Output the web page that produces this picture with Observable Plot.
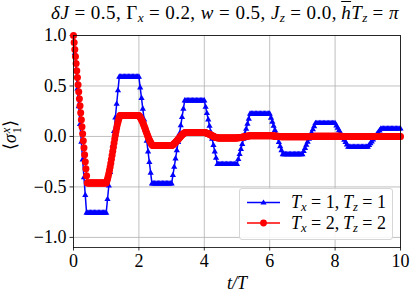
<!DOCTYPE html>
<html>
<head>
<meta charset="utf-8">
<script src="https://cdn.jsdelivr.net/npm/d3@7"></script>
<script src="https://cdn.jsdelivr.net/npm/@observablehq/plot@0.6"></script>
<style>
  body { margin: 0; background: #fff; }
  #wrap { position: relative; width: 416px; height: 300px; font-family: "Liberation Serif", "Times New Roman", serif; color: #000; overflow: hidden; }
  #title { position: absolute; left: 45px; width: 360px; top: 3px; text-align: center; font-size: 19px; line-height: 20px; letter-spacing: 0.45px; white-space: nowrap; }
  #chart { position: absolute; left: 0; top: 28px; }
  sub { font-size: 70%; vertical-align: -0.25em; line-height: 0; letter-spacing: 0; }
  .ov { text-decoration: overline; text-decoration-thickness: 1px; }
  #ylab { position: absolute; left: 12px; top: 135px; transform: translate(-50%, -50%) rotate(-90deg); font-size: 18px; white-space: nowrap; line-height: 1; }
  .ss { display: inline-flex; flex-direction: column; vertical-align: middle; font-size: 70%; line-height: 0.9; margin-left: 1px; }
  #legend { position: absolute; left: 239px; top: 188px; width: 152px; height: 50px; border: 1px solid #d6d6d6; border-radius: 3px; background: rgba(255,255,255,0.85); }
  .li { position: absolute; left: 51px; font-size: 18px; line-height: 20px; white-space: nowrap; }
  #legend svg { position: absolute; left: 0; top: 0; }
</style>
</head>
<body>
<div id="wrap">
  <div id="title"><i>δJ</i> = 0.5, Γ<sub><i>x</i></sub> = 0.2, <i>w</i> = 0.5, <i>J<sub>z</sub></i> = 0.0,&thinsp;<i class="ov">h</i><i>T<sub>z</sub></i> = <i>π</i></div>
  <div id="chart"></div>
  <div id="ylab">⟨<i>σ</i><span class="ss"><i>x</i><span>1</span></span>⟩</div>
  <div id="legend">
    <svg width="152" height="50">
      <line x1="7" x2="40" y1="13.5" y2="13.5" stroke="blue" stroke-width="1.5"/>
      <path d="M23.5,10.4 L26.6,15.6 L20.4,15.6 Z" fill="blue"/>
      <line x1="7" x2="40" y1="34" y2="34" stroke="red" stroke-width="1.5"/>
      <circle cx="23.5" cy="34" r="3.4" fill="red"/>
    </svg>
    <div class="li" style="top:3px"><i>T<sub>x</sub></i> = 1,&thinsp;<i>T<sub>z</sub></i> = 1</div>
    <div class="li" style="top:24px"><i>T<sub>x</sub></i> = 2,&thinsp;<i>T<sub>z</sub></i> = 2</div>
  </div>
</div>
<script>
// sampling steps in t/T
const blueStep = 0.04;
const redStep = 0.02;

// <σ1^x>, Tx = 1, Tz = 1 (sampled every 0.04 in t/T)
const blueValues = [
  1.000,0.824,0.649,0.473,0.297,0.122,-0.054,-0.230,-0.406,-0.581,
  -0.757,-0.757,-0.757,-0.757,-0.757,
  -0.757,-0.757,-0.757,-0.757,-0.757,
  -0.757,-0.757,-0.757,-0.757,-0.757,
  -0.757,-0.622,-0.488,-0.353,-0.218,-0.084,0.051,0.186,0.321,0.455,
  0.590,0.590,0.590,0.590,0.590,
  0.590,0.590,0.590,0.590,0.590,
  0.590,0.590,0.590,0.590,0.590,
  0.590,0.484,0.379,0.273,0.167,0.062,-0.044,-0.150,-0.256,-0.361,
  -0.467,-0.467,-0.467,-0.467,-0.467,
  -0.467,-0.467,-0.467,-0.467,-0.467,
  -0.467,-0.467,-0.467,-0.467,-0.467,
  -0.467,-0.385,-0.303,-0.220,-0.138,-0.056,0.026,0.108,0.191,0.273,
  0.355,0.355,0.355,0.355,0.355,
  0.355,0.355,0.355,0.355,0.355,
  0.355,0.355,0.355,0.355,0.355,
  0.355,0.292,0.229,0.166,0.103,0.040,-0.024,-0.087,-0.150,-0.213,
  -0.276,-0.276,-0.276,-0.276,-0.276,
  -0.276,-0.276,-0.276,-0.276,-0.276,
  -0.276,-0.276,-0.276,-0.276,-0.276,
  -0.276,-0.226,-0.176,-0.126,-0.076,-0.026,0.024,0.074,0.124,0.174,
  0.224,0.224,0.224,0.224,0.224,
  0.224,0.224,0.224,0.224,0.224,
  0.224,0.224,0.224,0.224,0.224,
  0.224,0.184,0.144,0.103,0.063,0.023,-0.017,-0.057,-0.098,-0.138,
  -0.178,-0.178,-0.178,-0.178,-0.178,
  -0.178,-0.178,-0.178,-0.178,-0.178,
  -0.178,-0.178,-0.178,-0.178,-0.178,
  -0.178,-0.147,-0.116,-0.085,-0.054,-0.024,0.007,0.038,0.069,0.100,
  0.131,0.131,0.131,0.131,0.131,
  0.131,0.131,0.131,0.131,0.131,
  0.131,0.131,0.131,0.131,0.131,
  0.131,0.107,0.084,0.060,0.037,0.013,-0.011,-0.034,-0.058,-0.081,
  -0.105,-0.105,-0.105,-0.105,-0.105,
  -0.105,-0.105,-0.105,-0.105,-0.105,
  -0.105,-0.105,-0.105,-0.105,-0.105,
  -0.105,-0.087,-0.069,-0.051,-0.033,-0.015,0.004,0.022,0.040,0.058,
  0.076,0.076,0.076,0.076,0.076,
  0.076,0.076,0.076,0.076,0.076,
  0.076,0.076,0.076,0.076,0.076,
  0.076
];

// <σ1^x>, Tx = 2, Tz = 2 (sampled every 0.02 in t/T)
const redValues = [
  1.000,0.930,0.861,0.791,0.722,0.652,0.583,0.513,0.444,0.374,0.305,
  0.235,0.166,0.096,0.027,-0.043,-0.112,-0.182,-0.251,-0.321,-0.390,-0.460,
  -0.460,-0.460,-0.460,-0.460,-0.460,-0.460,-0.460,
  -0.460,-0.460,-0.460,-0.460,-0.460,-0.460,-0.460,
  -0.460,-0.460,-0.460,-0.460,-0.460,-0.460,-0.460,
  -0.460,-0.460,-0.460,-0.460,-0.460,-0.460,-0.460,
  -0.460,-0.442,-0.421,-0.396,-0.368,-0.336,-0.302,-0.265,-0.227,-0.187,-0.147,
  -0.106,-0.066,-0.026,0.012,0.049,0.083,0.115,0.143,0.168,0.189,0.207,
  0.207,0.207,0.207,0.207,0.207,0.207,0.207,
  0.207,0.207,0.207,0.207,0.207,0.207,0.207,
  0.207,0.207,0.207,0.207,0.207,0.207,0.207,
  0.207,0.207,0.207,0.207,0.207,0.207,0.207,
  0.207,0.199,0.190,0.179,0.166,0.152,0.137,0.121,0.104,0.086,0.068,
  0.050,0.032,0.014,-0.003,-0.019,-0.034,-0.048,-0.061,-0.072,-0.081,-0.089,
  -0.089,-0.089,-0.089,-0.089,-0.089,-0.089,-0.089,
  -0.089,-0.089,-0.089,-0.089,-0.089,-0.089,-0.089,
  -0.089,-0.089,-0.089,-0.089,-0.089,-0.089,-0.089,
  -0.089,-0.089,-0.089,-0.089,-0.089,-0.089,-0.089,
  -0.089,-0.086,-0.081,-0.077,-0.071,-0.065,-0.058,-0.051,-0.044,-0.036,-0.028,
  -0.021,-0.013,-0.005,0.002,0.009,0.016,0.022,0.028,0.032,0.037,0.040,
  0.040,0.040,0.040,0.040,0.040,0.040,0.040,
  0.040,0.040,0.040,0.040,0.040,0.040,0.040,
  0.040,0.040,0.040,0.040,0.040,0.040,0.040,
  0.040,0.040,0.040,0.040,0.040,0.040,0.040,
  0.040,0.039,0.037,0.035,0.032,0.030,0.027,0.024,0.021,0.018,0.014,
  0.011,0.007,0.004,0.001,-0.002,-0.005,-0.007,-0.010,-0.012,-0.014,-0.015,
  -0.015,-0.015,-0.015,-0.015,-0.015,-0.015,-0.015,
  -0.015,-0.015,-0.015,-0.015,-0.015,-0.015,-0.015,
  -0.015,-0.015,-0.015,-0.015,-0.015,-0.015,-0.015,
  -0.015,-0.015,-0.015,-0.015,-0.015,-0.015,-0.015,
  -0.015,-0.014,-0.014,-0.013,-0.012,-0.011,-0.010,-0.009,-0.007,-0.006,-0.005,
  -0.003,-0.002,-0.001,0.001,0.002,0.003,0.004,0.005,0.006,0.006,0.007,
  0.007,0.007,0.007,0.007,0.007,0.007,0.007,
  0.007,0.007,0.007,0.007,0.007,0.007,0.007,
  0.007,0.007,0.007,0.007,0.007,0.007,0.007,
  0.007,0.007,0.007,0.007,0.007,0.007,0.007,
  0.007,0.007,0.006,0.006,0.006,0.005,0.005,0.004,0.004,0.003,0.002,
  0.002,0.001,0.001,0.000,-0.001,-0.001,-0.002,-0.002,-0.002,-0.003,-0.003,
  -0.003,-0.003,-0.003,-0.003,-0.003,-0.003,-0.003,
  -0.003,-0.003,-0.003,-0.003,-0.003,-0.003,-0.003,
  -0.003,-0.003,-0.003,-0.003,-0.003,-0.003,-0.003,
  -0.003,-0.003,-0.003,-0.003,-0.003,-0.003,-0.003,
  -0.003,-0.003,-0.003,-0.003,-0.002,-0.002,-0.002,-0.002,-0.002,-0.001,-0.001,
  -0.001,-0.001,0.000,0.000,0.000,0.000,0.000,0.001,0.001,0.001,0.001,
  0.001,0.001,0.001,0.001,0.001,0.001,0.001,
  0.001,0.001,0.001,0.001,0.001,0.001,0.001,
  0.001,0.001,0.001,0.001,0.001,0.001,0.001,
  0.001,0.001,0.001,0.001,0.001,0.001,0.001,
  0.001,0.001,0.001,0.001,0.001,0.001,0.001,0.001,0.001,0.001,0.001,
  0.000,0.000,0.000,0.000,0.000,0.000,0.000,0.000,0.000,0.000,0.000,
  0.000,0.000,0.000,0.000,0.000,0.000,0.000,
  0.000,0.000,0.000,0.000,0.000,0.000,0.000,
  0.000,0.000,0.000,0.000,0.000,0.000,0.000,
  0.000,0.000,0.000,0.000,0.000,0.000,0.000,
  0.000,0.000,0.000,0.000,0.000,0.000,0.000,0.000,0.000,0.000,0.000,
  0.000,0.000,0.000,0.000,0.000,0.000,0.000,0.000,0.000,0.000,0.000,
  0.000,0.000,0.000,0.000,0.000,0.000,0.000,
  0.000,0.000,0.000,0.000,0.000,0.000,0.000,
  0.000,0.000,0.000,0.000,0.000,0.000,0.000,
  0.000,0.000,0.000,0.000,0.000,0.000,0.000,
  0.000
];

const xTicks = [0, 2, 4, 6, 8, 10];
const yTicks = [-1.0, -0.5, 0.0, 0.5, 1.0];
const xDomain = [0, 10];
const yDomain = [-1.1, 1.0];

const blue = blueValues.map((v, i) => ({t: i * blueStep, v}));
const red = redValues.map((v, i) => ({t: i * redStep, v}));

const fmtY = d => d.toFixed(1).replace("-", "\u2212");
const serif = "'Liberation Serif', 'Times New Roman', serif";

const chart = Plot.plot({
  width: 416,
  height: 272,
  marginTop: 7,
  marginLeft: 73,
  marginRight: 16,
  marginBottom: 53,
  style: {fontFamily: serif, fontSize: "18px", background: "transparent", overflow: "visible", color: "#000"},
  x: {domain: xDomain},
  y: {domain: yDomain},
  marks: [
    Plot.gridX(xTicks, {stroke: "#b0b0b0", strokeOpacity: 1, strokeWidth: 0.8}),
    Plot.gridY(yTicks, {stroke: "#b0b0b0", strokeOpacity: 1, strokeWidth: 0.8}),
    Plot.axisX(xTicks, {tickSize: 3.5, tickPadding: 3.5, tickFormat: d => String(d), label: null, fontSize: 18, fontFamily: serif, strokeWidth: 0.8}),
    Plot.axisY(yTicks, {tickSize: 3.5, tickPadding: 3.5, tickFormat: fmtY, label: null, fontSize: 18, fontFamily: serif, strokeWidth: 0.8}),
    Plot.line(blue, {x: "t", y: "v", stroke: "blue", strokeWidth: 1.5}),
    Plot.dot(blue, {x: "t", y: "v", symbol: "triangle", fill: "blue", r: 2.3}),
    Plot.line(red, {x: "t", y: "v", stroke: "red", strokeWidth: 1.5}),
    Plot.dot(red, {x: "t", y: "v", fill: "red", r: 3.5}),
    Plot.frame({stroke: "#000", strokeWidth: 0.8}),
    Plot.text(["t/T"], {frameAnchor: "bottom", lineAnchor: "middle", dy: 36, fontStyle: "italic", fontSize: 18, fontFamily: serif, text: d => d})
  ]
});
document.getElementById("chart").appendChild(chart);
</script>
</body>
</html>
